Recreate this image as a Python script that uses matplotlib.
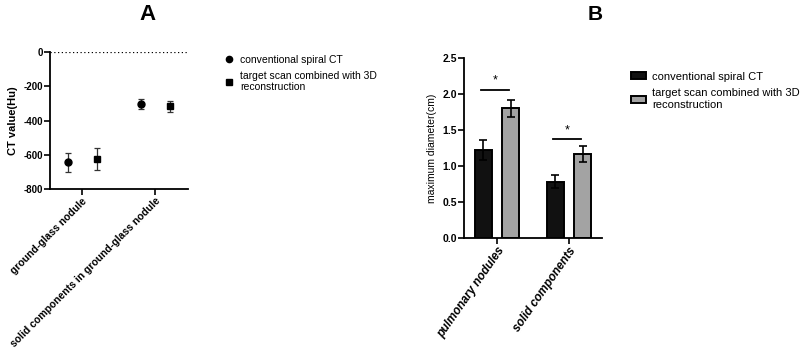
import numpy as np
import matplotlib.pyplot as plt
from matplotlib.lines import Line2D

plt.rcParams['font.family'] = ['Liberation Sans', 'DejaVu Sans']
plt.rcParams['axes.unicode_minus'] = False

# panel A data
a_categories = ['ground-glass nodule', 'solid components in ground-glass nodule']
a_conv = [-645, -303]
a_conv_err = [57, 28]
a_target = [-624, -318]
a_target_err = [66, 30]

# panel B data
b_categories = ['pulmonary nodules', 'solid components']
b_conv = [1.22, 0.78]
b_conv_err = [0.14, 0.09]
b_target = [1.80, 1.17]
b_target_err = [0.12, 0.11]
sig_y = [2.06, 1.37]

series_names = ['conventional spiral CT', 'target scan combined with 3D\nreconstruction']

fig = plt.figure(figsize=(8.07, 3.54), dpi=100)

# ---- A ----
ax1 = fig.add_axes([0.062, 0.466, 0.171, 0.387])
x = np.arange(len(a_categories))
off = 0.2
ax1.errorbar(x - off, a_conv, yerr=a_conv_err, fmt='o', color='black', ms=5,
             ecolor='#333333', elinewidth=0.9, capsize=2.5, capthick=0.9)
ax1.errorbar(x + off, a_target, yerr=a_target_err, fmt='s', color='black', ms=5,
             ecolor='#333333', elinewidth=0.9, capsize=2.5, capthick=0.9)
ax1.axhline(0, color='black', ls=(0, (1, 2)), lw=0.9)
ax1.set_xlim(-0.44, 1.45)
ax1.set_ylim(-800, 0)
ax1.set_yticks([0, -200, -400, -600, -800])
ax1.set_xticks(x)
ax1.set_xticklabels(a_categories, rotation=45, ha='right', rotation_mode='anchor',
                    fontsize=7.5, fontweight='bold')
ax1.set_ylabel('CT value(Hu)', fontsize=8, fontweight='bold')
for lab in ax1.get_yticklabels():
    lab.set_fontweight('bold')
    lab.set_fontsize(7)
handles_a = [Line2D([], [], marker='o', ls='', color='black', ms=4.5),
             Line2D([], [], marker='s', ls='', color='black', ms=4.5)]
ax1.legend(handles_a, series_names, loc='upper left', bbox_to_anchor=(1.19, 1.05),
           frameon=False, fontsize=7.5, handletextpad=0.6, labelspacing=0.6,
           handlelength=1.0)
fig.text(148 / 807, 1 - 15 / 354, 'A', ha='center', va='center', fontsize=16,
         fontweight='bold')

# ---- B ----
ax2 = fig.add_axes([0.575, 0.328, 0.171, 0.508])
xb = np.arange(len(b_categories))
w = 0.24
offb = 0.19
b1 = ax2.bar(xb - offb, b_conv, w, color='#111111', edgecolor='black', lw=1.4,
             yerr=b_conv_err, capsize=3, error_kw=dict(elinewidth=1.2, capthick=1.2))
b2 = ax2.bar(xb + offb, b_target, w, color='#a3a3a3', edgecolor='black', lw=1.4,
             yerr=b_target_err, capsize=3, error_kw=dict(elinewidth=1.2, capthick=1.2))
# significance marks
for i in range(len(b_categories)):
    ax2.plot([xb[i] - 0.22, xb[i] + 0.17], [sig_y[i], sig_y[i]], color='black', lw=1.3)
    ax2.text(xb[i] - 0.02, sig_y[i] + 0.04, '*', ha='center', va='bottom', fontsize=9)
ax2.set_xlim(-0.46, 1.46)
ax2.set_ylim(0, 2.5)
ax2.set_yticks([0.0, 0.5, 1.0, 1.5, 2.0, 2.5])
ax2.set_yticklabels(['0.0', '0.5', '1.0', '1.5', '2.0', '2.5'], fontsize=7.5,
                    fontweight='bold')
ax2.set_xticks(xb)
ax2.set_xticklabels(b_categories, rotation=55, ha='right', rotation_mode='anchor',
                    fontsize=8.5, fontweight='bold', fontstyle='italic')
ax2.set_ylabel('maximum diameter(cm)', fontsize=7.5)
fig.text(595 / 807, 1 - 15 / 354, 'B', ha='center', va='center', fontsize=15,
         fontweight='bold')
ax2.legend([b1, b2], series_names, loc='upper left', bbox_to_anchor=(1.14, 0.98),
           frameon=False, fontsize=8, handletextpad=0.6, labelspacing=0.6,
           handlelength=1.3, handleheight=0.6)

for ax in (ax1, ax2):
    ax.spines['top'].set_visible(False)
    ax.spines['right'].set_visible(False)
    ax.spines['left'].set_linewidth(1.3)
    ax.spines['bottom'].set_linewidth(1.3)
    ax.tick_params(width=1.2, length=4, pad=1)

fig.savefig('out.png', dpi=100)
